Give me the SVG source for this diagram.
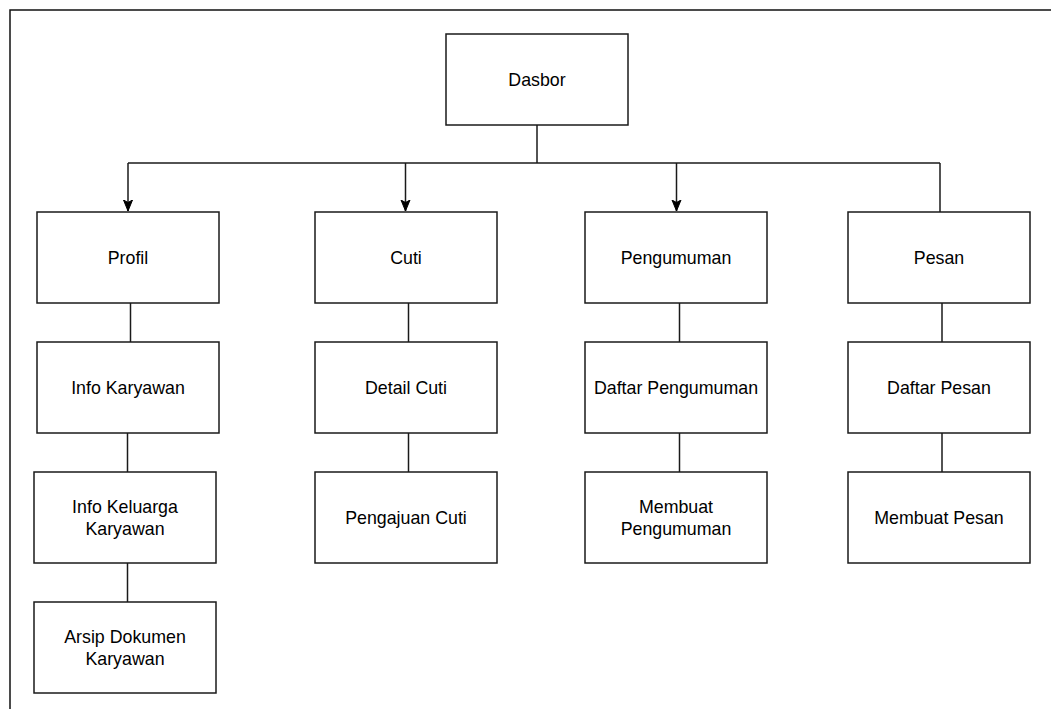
<svg xmlns="http://www.w3.org/2000/svg" width="1051" height="709" viewBox="0 0 1051 709">
<style>
.box{fill:#ffffff;stroke:#1a1a1a;stroke-width:1.5}
.lbl{font-family:"Liberation Sans",Arial,sans-serif;font-size:17.8px;fill:#000;text-anchor:middle}
.ln{fill:none;stroke:#1a1a1a;stroke-width:1.5}
</style>
<defs>
<marker id="arr" markerWidth="12" markerHeight="12" viewBox="0 0 12 12" refX="11" refY="6" orient="auto" markerUnits="userSpaceOnUse">
<path d="M0,1.5 L11,6 L0,10.5 L2.5,6 Z" fill="#000" stroke="#000" stroke-width="1"/>
</marker>
</defs>
<rect x="0" y="0" width="1051" height="709" fill="#ffffff"/>
<path d="M10,709 L10,10 L1051,10" fill="none" stroke="#111" stroke-width="1.5"/>
<g id="connectors">
<path class="ln" d="M537,125 L537,163"/>
<path class="ln" d="M128,163 L940,163"/>
<path class="ln" d="M128,163 L128,211" marker-end="url(#arr)"/>
<path class="ln" d="M405.5,163 L405.5,211" marker-end="url(#arr)"/>
<path class="ln" d="M676.5,163 L676.5,211" marker-end="url(#arr)"/>
<path class="ln" d="M940,163 L940,212"/>
<path class="ln" d="M130.5,303 L130.5,342"/>
<path class="ln" d="M127.5,433 L127.5,472"/>
<path class="ln" d="M127.5,563 L127.5,602"/>
<path class="ln" d="M408.5,303 L408.5,342"/>
<path class="ln" d="M408.5,433 L408.5,472"/>
<path class="ln" d="M679.5,303 L679.5,342"/>
<path class="ln" d="M679.5,433 L679.5,472"/>
<path class="ln" d="M942,303 L942,342"/>
<path class="ln" d="M942,433 L942,472"/>
</g>
<g id="dasbor"><rect class="box" x="446" y="34" width="182" height="91"/><text class="lbl" x="537" y="86">Dasbor</text></g>
<g id="profil"><rect class="box" x="37" y="212" width="182" height="91"/><text class="lbl" x="128" y="264">Profil</text></g>
<g id="info-karyawan"><rect class="box" x="37" y="342" width="182" height="91"/><text class="lbl" x="128" y="394">Info Karyawan</text></g>
<g id="info-keluarga"><rect class="box" x="34" y="472" width="182" height="91"/><text class="lbl" x="125" y="513">Info Keluarga</text><text class="lbl" x="125" y="535">Karyawan</text></g>
<g id="arsip"><rect class="box" x="34" y="602" width="182" height="91"/><text class="lbl" x="125" y="643">Arsip Dokumen</text><text class="lbl" x="125" y="665">Karyawan</text></g>
<g id="cuti"><rect class="box" x="315" y="212" width="182" height="91"/><text class="lbl" x="406" y="264">Cuti</text></g>
<g id="detail-cuti"><rect class="box" x="315" y="342" width="182" height="91"/><text class="lbl" x="406" y="394">Detail Cuti</text></g>
<g id="pengajuan-cuti"><rect class="box" x="315" y="472" width="182" height="91"/><text class="lbl" x="406" y="524">Pengajuan Cuti</text></g>
<g id="pengumuman"><rect class="box" x="585" y="212" width="182" height="91"/><text class="lbl" x="676" y="264">Pengumuman</text></g>
<g id="daftar-pengumuman"><rect class="box" x="585" y="342" width="182" height="91"/><text class="lbl" x="676" y="394">Daftar Pengumuman</text></g>
<g id="membuat-pengumuman"><rect class="box" x="585" y="472" width="182" height="91"/><text class="lbl" x="676" y="513">Membuat</text><text class="lbl" x="676" y="535">Pengumuman</text></g>
<g id="pesan"><rect class="box" x="848" y="212" width="182" height="91"/><text class="lbl" x="939" y="264">Pesan</text></g>
<g id="daftar-pesan"><rect class="box" x="848" y="342" width="182" height="91"/><text class="lbl" x="939" y="394">Daftar Pesan</text></g>
<g id="membuat-pesan"><rect class="box" x="848" y="472" width="182" height="91"/><text class="lbl" x="939" y="524">Membuat Pesan</text></g>
</svg>
